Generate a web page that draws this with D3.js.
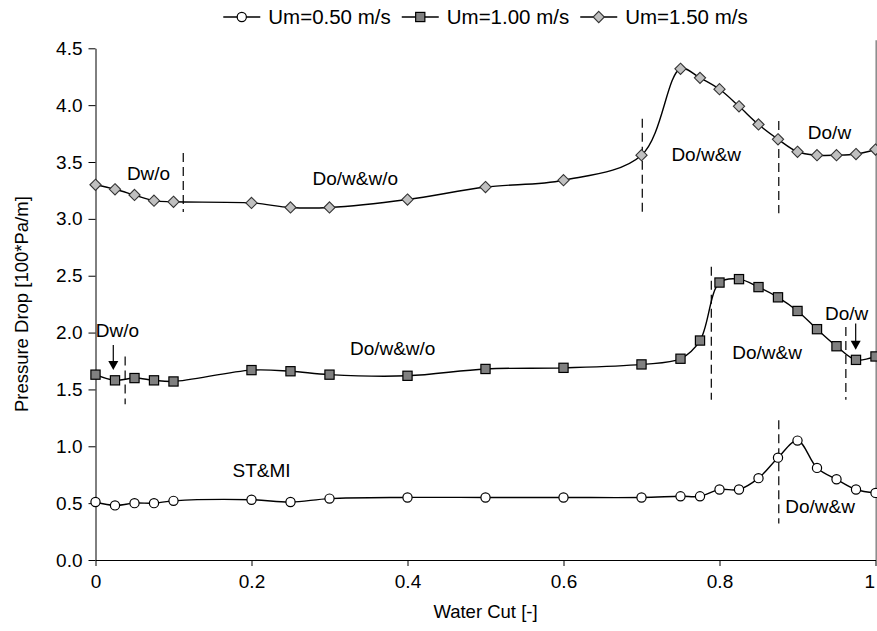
<!DOCTYPE html>
<html>
<head>
<meta charset="utf-8">
<script src="https://cdn.jsdelivr.net/npm/d3@7"></script>
<style>
  html, body { margin: 0; padding: 0; background: #fff; }
  svg { display: block; font-family: "Liberation Sans", Arial, sans-serif; }
  .axis text { font-size: 19px; fill: #000; }
  .axis path, .axis line { stroke: #000; }
</style>
</head>
<body>
<div id="chart"></div>
<script>
// Pressure drop vs water cut, three mixture velocities, flow regime annotations.

const waterCut = [0, 0.025, 0.05, 0.075, 0.1, 0.2, 0.25, 0.3, 0.4, 0.5, 0.6, 0.7,
  0.75, 0.775, 0.8, 0.825, 0.85, 0.875, 0.9, 0.925, 0.95, 0.975, 1.0];

const um050 = [0.51, 0.48, 0.50, 0.50, 0.52, 0.53, 0.51, 0.54, 0.55, 0.55, 0.55, 0.55,
  0.56, 0.56, 0.62, 0.62, 0.72, 0.90, 1.05, 0.81, 0.71, 0.62, 0.59];
const um100 = [1.63, 1.58, 1.60, 1.58, 1.57, 1.67, 1.66, 1.63, 1.62, 1.68, 1.69, 1.72,
  1.77, 1.93, 2.44, 2.47, 2.40, 2.31, 2.19, 2.03, 1.88, 1.76, 1.79];
const um150 = [3.30, 3.26, 3.21, 3.16, 3.15, 3.14, 3.10, 3.10, 3.17, 3.28, 3.34, 3.56,
  4.32, 4.24, 4.14, 3.99, 3.83, 3.70, 3.59, 3.56, 3.56, 3.57, 3.61];

const seriesNames = ["Um=0.50 m/s", "Um=1.00 m/s", "Um=1.50 m/s"];

const yTicks = [0, 0.5, 1.0, 1.5, 2.0, 2.5, 3.0, 3.5, 4.0, 4.5];
const xTicks = [0, 0.2, 0.4, 0.6, 0.8, 1];

// regime names, anchored in data units (water cut, pressure drop)
const regimeText = ["Dw/o", "Do/w&w/o", "Do/w&w", "Do/w",
  "Dw/o", "Do/w&w/o", "Do/w&w", "Do/w", "ST&MI", "Do/w&w"];
const regimeX = [0.068, 0.333, 0.783, 0.941, 0.028, 0.381, 0.861, 0.963, 0.213, 0.929];
const regimeY = [3.40, 3.36, 3.57, 3.76, 2.02, 1.86, 1.83, 2.17, 0.785, 0.47];

// regime boundaries (dashed): water cut, low / high pressure drop
const boundX = [0.1125, 0.701, 0.876, 0.038, 0.7895, 0.962, 0.876];
const boundLo = [3.06, 3.05, 3.05, 1.37, 1.41, 1.41, 0.32];
const boundHi = [3.58, 3.88, 3.86, 1.79, 2.58, 2.05, 1.23];

// pointer arrows
const arrowX = [0.0228, 0.9746];
const arrowFrom = [1.89, 2.08];
const arrowTo = [1.67, 1.85];

const W = 877, H = 631;
const margin = { top: 48.3, right: 1.5, bottom: 71, left: 95.5 };

const svg = d3.select("#chart").append("svg")
  .attr("width", W).attr("height", H);

const x = d3.scaleLinear().domain([0, 1]).range([margin.left, W - margin.right]);
const y = d3.scaleLinear().domain([0, 4.5]).range([H - margin.bottom, margin.top]);

// axes
svg.append("g").attr("class", "axis")
  .attr("transform", `translate(0,${y(0)})`)
  .call(d3.axisBottom(x).tickValues(xTicks).tickSize(6).tickSizeOuter(0)
    .tickFormat(d => (d === 0 || d === 1) ? String(d) : d3.format(".1f")(d)))
  .call(g => g.selectAll("text").attr("dy", "1.0em"))
  .call(g => g.selectAll(".tick").filter(d => d === 1).select("text")
    .attr("text-anchor", "end").attr("x", -1));

svg.append("g").attr("class", "axis")
  .attr("transform", `translate(${x(0)},0)`)
  .call(d3.axisLeft(y).tickValues(yTicks).tickSize(7).tickSizeOuter(0)
    .tickFormat(d3.format(".1f")))
  .call(g => g.selectAll("text").attr("x", -13));

// right border
svg.append("line")
  .attr("x1", 876.2).attr("x2", 876.2).attr("y1", margin.top - 8).attr("y2", y(0))
  .attr("stroke", "#888").attr("stroke-width", 1.5);

// axis titles
svg.append("text")
  .attr("x", (x(0) + x(1)) / 2).attr("y", 618)
  .attr("text-anchor", "middle").attr("font-size", 18.5)
  .text("Water Cut [-]");
svg.append("text")
  .attr("transform", `translate(28,${(y(0) + y(4.5)) / 2}) rotate(-90)`)
  .attr("text-anchor", "middle").attr("font-size", 18.5)
  .text("Pressure Drop [100*Pa/m]");

// dashed regime boundaries
svg.append("g").selectAll("line")
  .data(boundX.map((b, i) => ({ x: b, lo: boundLo[i], hi: boundHi[i] })))
  .join("line")
  .attr("x1", d => x(d.x)).attr("x2", d => x(d.x))
  .attr("y1", d => y(d.hi)).attr("y2", d => y(d.lo))
  .attr("stroke", "#000").attr("stroke-width", 1.2)
  .attr("stroke-dasharray", "9,5");

// series lines
const line = d3.line()
  .x(d => x(d[0])).y(d => y(d[1]))
  .curve(d3.curveCatmullRom.alpha(0.5));

const series = [um050, um100, um150].map(vals => waterCut.map((w, i) => [w, vals[i]]));

svg.append("g").selectAll("path")
  .data(series)
  .join("path")
  .attr("d", line)
  .attr("fill", "none").attr("stroke", "#000").attr("stroke-width", 1.4);

// markers
const markerFill = ["#fff", "#808080", "#c0c0c0"];
function drawMarker(g, k, cx, cy) {
  if (k === 0) {
    g.append("circle").attr("cx", cx).attr("cy", cy).attr("r", 4.6)
      .attr("fill", markerFill[0]).attr("stroke", "#000").attr("stroke-width", 1.2);
  } else if (k === 1) {
    g.append("rect").attr("x", cx - 4.6).attr("y", cy - 4.6).attr("width", 9.2).attr("height", 9.2)
      .attr("fill", markerFill[1]).attr("stroke", "#000").attr("stroke-width", 1.2);
  } else {
    const s = 5.6;
    g.append("path").attr("d", `M${cx},${cy - s}L${cx + s},${cy}L${cx},${cy + s}L${cx - s},${cy}Z`)
      .attr("fill", markerFill[2]).attr("stroke", "#333").attr("stroke-width", 1.1);
  }
}
const gMarks = svg.append("g");
series.forEach((pts, k) => {
  pts.forEach(p => drawMarker(gMarks, k, x(p[0]), y(p[1])));
});

// regime labels
svg.append("g").selectAll("text")
  .data(regimeText.map((t, i) => ({ t, x: regimeX[i], y: regimeY[i] })))
  .join("text")
  .attr("x", d => x(d.x)).attr("y", d => y(d.y))
  .attr("dy", "0.35em").attr("text-anchor", "middle").attr("font-size", 19)
  .text(d => d.t);

// arrows
const gArrows = svg.append("g");
arrowX.forEach((ax, i) => {
  const px = x(ax), y0 = y(arrowFrom[i]), y1 = y(arrowTo[i]);
  gArrows.append("line").attr("x1", px).attr("x2", px).attr("y1", y0).attr("y2", y1 - 8)
    .attr("stroke", "#000").attr("stroke-width", 1.2);
  gArrows.append("path").attr("d", `M${px - 5},${y1 - 9}L${px + 5},${y1 - 9}L${px},${y1}Z`)
    .attr("fill", "#000");
});

// legend, centred over the plot
const legend = svg.append("g");
const legY = 17;
let cursor = 0;
seriesNames.forEach((name, k) => {
  const g = legend.append("g").attr("transform", `translate(${cursor},0)`);
  g.append("line").attr("x1", 0).attr("x2", 37).attr("y1", legY).attr("y2", legY)
    .attr("stroke", "#000").attr("stroke-width", 1.4);
  drawMarker(g, k, 18.5, legY);
  const t = g.append("text").attr("x", 45).attr("y", legY).attr("dy", "0.35em")
    .attr("font-size", 20.5).text(name);
  cursor += 45 + t.node().getComputedTextLength() + 11;
});
const legW = cursor - 11;
legend.attr("transform", `translate(${(x(0) + x(1)) / 2 - legW / 2},0)`);
</script>
</body>
</html>
